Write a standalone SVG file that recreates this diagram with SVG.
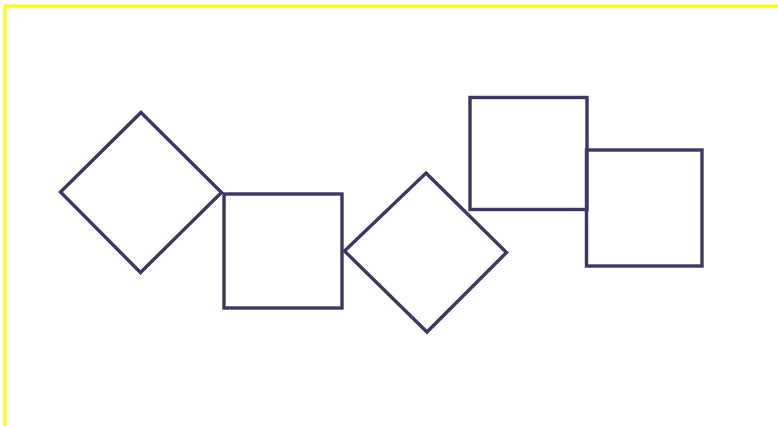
<svg xmlns="http://www.w3.org/2000/svg" width="778" height="426" viewBox="0 0 778 426">
<style>
.s{fill:none;stroke:#3c3866;stroke-width:3.4;stroke-linejoin:miter}
.b{fill:none;stroke:#ffff00;stroke-width:3}
</style>
<rect width="778" height="426" fill="#ffffff"/>
<path class="b" d="M5 426 V6 H778"/>
<g id="diamond1"><polygon class="s" points="141,112.5 221.5,192.5 140.5,272.5 60.5,192"/></g>
<g id="square1"><rect class="s" x="224" y="194" width="118" height="114"/></g>
<g id="diamond2"><polygon class="s" points="426,173 506.5,252.5 427,332 344.5,251"/></g>
<g id="square2"><rect class="s" x="470" y="97.5" width="117" height="112"/></g>
<g id="square3"><rect class="s" x="586.5" y="150" width="115.5" height="116"/></g>
<g id="connectors"></g>
</svg>
